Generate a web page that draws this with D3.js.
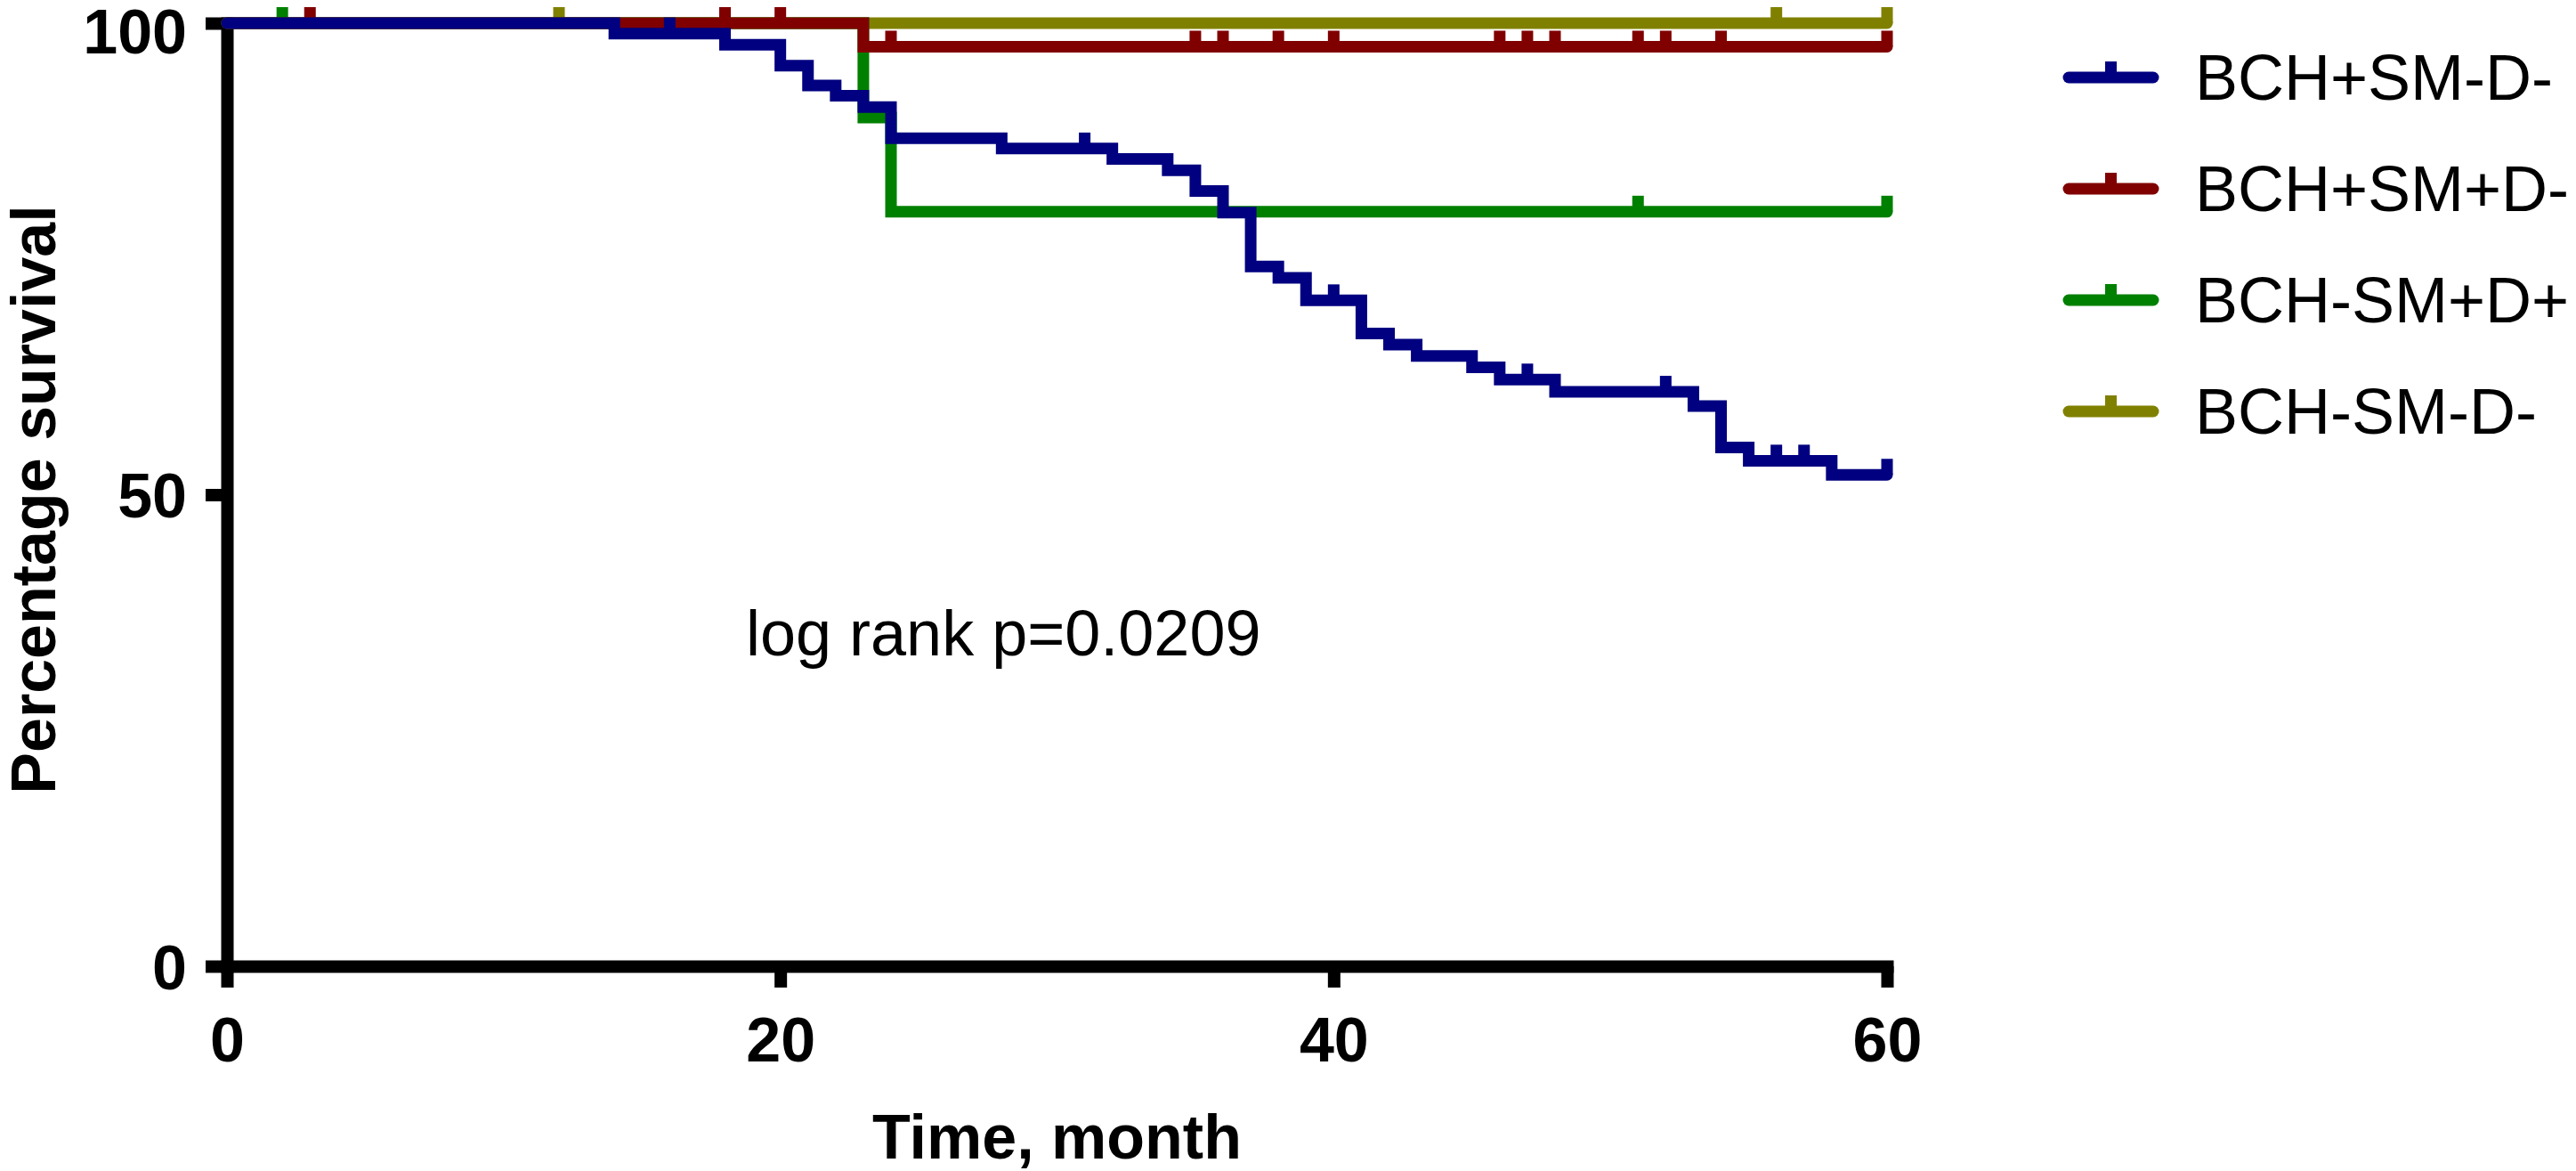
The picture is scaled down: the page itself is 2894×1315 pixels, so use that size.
<!DOCTYPE html>
<html>
<head>
<meta charset="utf-8">
<script src="https://cdn.jsdelivr.net/npm/d3@7"></script>
<style>
body { margin: 0; background: #fff; }
svg { display: block; }
</style>
</head>
<body>
<div id="chart"></div>
<script>
// survival steps (time in months, survival in %)
var group_names = ["BCH+SM-D-", "BCH+SM+D-", "BCH-SM+D+", "BCH-SM-D-"];
var group_colors = ["#000080", "#800000", "#008000", "#808000"];

var blue_time   = [0, 14, 18, 20, 21, 22, 23, 24, 28, 32, 34, 35, 36, 37, 38, 39, 41, 42, 43, 45, 46, 48, 53, 54, 55, 58, 60];
var blue_surv   = [100, 98.9, 97.7, 95.5, 93.4, 92.3, 91.1, 87.8, 86.7, 85.6, 84.4, 82.2, 79.9, 74.2, 73.0, 70.6, 67.1, 65.9, 64.7, 63.5, 62.2, 60.9, 59.4, 55.0, 53.6, 52.1, 52.1];
var blue_censor = [16, 31, 40, 47, 52, 56, 57, 60];

var red_time   = [0, 23, 60];
var red_surv   = [100, 97.5, 97.5];
var red_censor = [3, 18, 20, 24, 35, 36, 38, 40, 46, 47, 48, 51, 52, 54, 60];

var green_time   = [0, 23, 24, 60];
var green_surv   = [100, 90, 80, 80];
var green_censor = [2, 51, 60];

var olive_time   = [0, 60];
var olive_surv   = [100, 100];
var olive_censor = [12, 56, 60];

var x_ticks = [0, 20, 40, 60];
var y_ticks = [0, 50, 100];
var p_text = "log rank p=0.0209";

var width = 2894, height = 1315;

var svg = d3.select("#chart").append("svg")
			.attr("width", width)
			.attr("height", height);

var x = d3.scaleLinear().domain([0, 60]).range([255, 2120]);
var y = d3.scaleLinear().domain([0, 100]).range([1085, 26]);

// axes
var x_axis = d3.axisBottom(x).tickValues(x_ticks).tickSize(24).tickSizeOuter(0).tickPadding(34);
var y_axis = d3.axisLeft(y).tickValues(y_ticks).tickSize(24).tickSizeOuter(0).tickPadding(21);

var gx = svg.append("g")
			.attr("transform", "translate(0," + y(0) + ")")
			.call(x_axis);
var gy = svg.append("g")
			.attr("transform", "translate(" + x(0) + ",0)")
			.call(y_axis);

[gx, gy].forEach(function(g){
	g.select(".domain")
	 .attr("stroke", "#000")
	 .attr("stroke-width", 14)
	 .attr("stroke-linecap", "square");
	g.selectAll(".tick line")
	 .attr("stroke", "#000")
	 .attr("stroke-width", 14);
	g.selectAll(".tick text")
	 .attr("fill", "#000")
	 .style("font-family", "'Liberation Sans', Arial, sans-serif")
	 .style("font-weight", "bold")
	 .style("font-size", "70px");
});
gx.selectAll(".tick text").attr("dy", "0");
gx.selectAll(".tick text").attr("y", 1192 - 1085);
gy.selectAll(".tick text").attr("dy", "0.36em");
// top label sits against the edge, nudge it down a little
gy.selectAll(".tick text")
  .filter(function(d){ return d === 100; })
  .attr("y", 8);

// axis titles
svg.append("text")
   .attr("x", (x(0) + x(60)) / 2)
   .attr("y", 1301)
   .attr("text-anchor", "middle")
   .style("font-family", "'Liberation Sans', Arial, sans-serif")
   .style("font-weight", "bold")
   .style("font-size", "70px")
   .text("Time, month");

svg.append("text")
   .attr("transform", "translate(62," + 561 + ") rotate(-90)")
   .attr("text-anchor", "middle")
   .style("font-family", "'Liberation Sans', Arial, sans-serif")
   .style("font-weight", "bold")
   .style("font-size", "70px")
   .text("Percentage survival");

svg.append("text")
   .attr("x", 838)
   .attr("y", 736)
   .style("font-family", "'Liberation Sans', Arial, sans-serif")
   .style("font-size", "72px")
   .text(p_text);

// curves, drawn bottom to top: olive, green, red, blue
var groups = [
	{name: group_names[0], color: group_colors[0], t: blue_time,  s: blue_surv,  c: blue_censor},
	{name: group_names[1], color: group_colors[1], t: red_time,   s: red_surv,   c: red_censor},
	{name: group_names[2], color: group_colors[2], t: green_time, s: green_surv, c: green_censor},
	{name: group_names[3], color: group_colors[3], t: olive_time, s: olive_surv, c: olive_censor}
];

function surv_at(g, t){
	var v = g.s[0];
	for(var i=0;i<g.t.length;i++){
		if(g.t[i] <= t) v = g.s[i];
	}
	return v;
}

var step_line = d3.line()
				  .x(function(d){ return x(d[0]); })
				  .y(function(d){ return y(d[1]); })
				  .curve(d3.curveStepAfter);

var tick_h = 18;
var curve_g = svg.append("g");

groups.slice().reverse().forEach(function(g){
	var pts = g.t.map(function(t, i){ return [t, g.s[i]]; });

	curve_g.append("path")
		   .datum(pts)
		   .attr("d", step_line)
		   .attr("fill", "none")
		   .attr("stroke", g.color)
		   .attr("stroke-width", 13)
		   .attr("stroke-linecap", "round")
		   .attr("stroke-linejoin", "miter");

	curve_g.selectAll(null)
		   .data(g.c)
		   .enter()
		   .append("line")
		   .attr("x1", function(d){ return x(d); })
		   .attr("x2", function(d){ return x(d); })
		   .attr("y1", function(d){ return y(surv_at(g, d)); })
		   .attr("y2", function(d){ return y(surv_at(g, d)) - tick_h; })
		   .attr("stroke", g.color)
		   .attr("stroke-width", 13);
});

// legend
var legend = svg.append("g")
				.selectAll("g")
				.data(groups)
				.enter()
				.append("g")
				.attr("transform", function(d, i){ return "translate(0," + (87 + i*125) + ")"; });

legend.append("line")
	  .attr("x1", 2324).attr("x2", 2419)
	  .attr("y1", 0).attr("y2", 0)
	  .attr("stroke", function(d){ return d.color; })
	  .attr("stroke-width", 13)
	  .attr("stroke-linecap", "round");

legend.append("line")
	  .attr("x1", 2371.5).attr("x2", 2371.5)
	  .attr("y1", 0).attr("y2", -tick_h)
	  .attr("stroke", function(d){ return d.color; })
	  .attr("stroke-width", 13);

legend.append("text")
	  .attr("x", 2466)
	  .attr("y", 24.5)
	  .style("font-family", "'Liberation Sans', Arial, sans-serif")
	  .style("font-size", "72px")
	  .text(function(d){ return d.name; });
</script>
</body>
</html>
